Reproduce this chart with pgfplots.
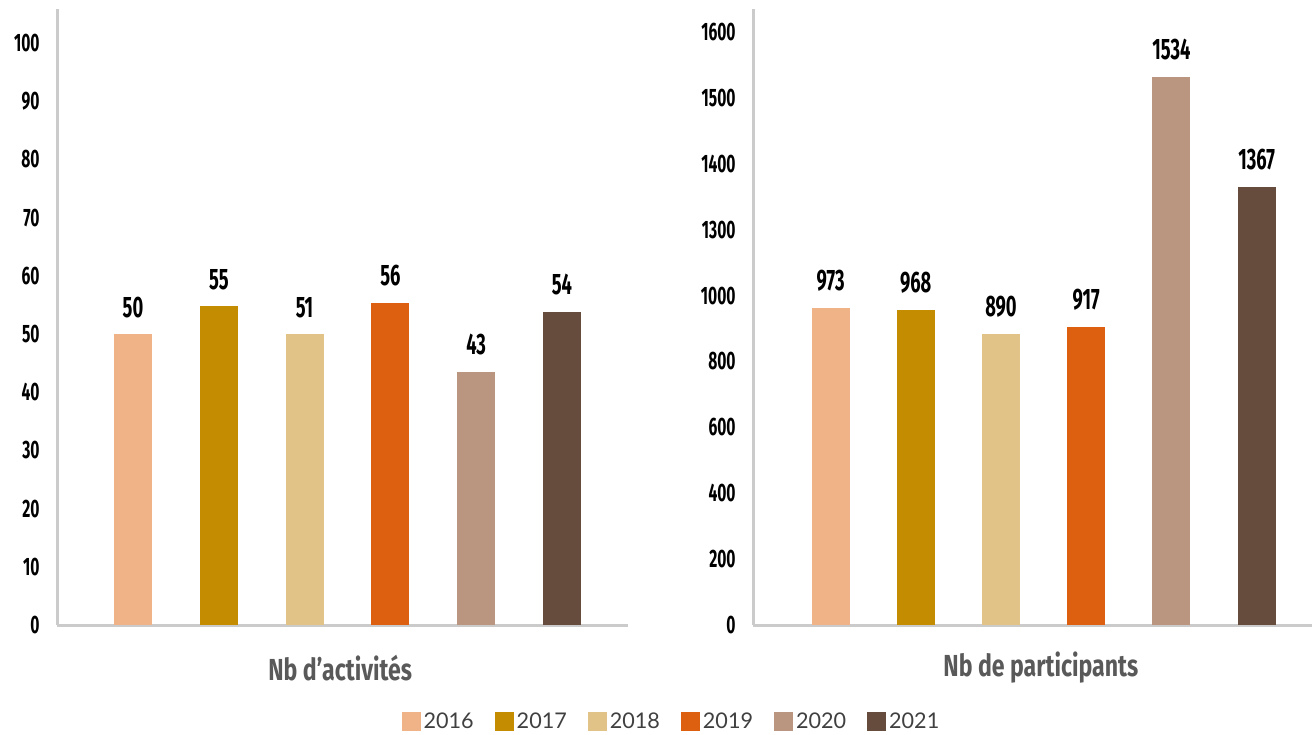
\documentclass[border=0pt]{standalone}
\usepackage{pgfplots}
\pgfplotsset{compat=1.18}
\usepackage{fontspec}
\setmainfont{Lato}
\newfontfamily\condfont[FakeStretch=0.62]{Fira Sans}
\newfontfamily\titlefont[FakeStretch=0.76]{Fira Sans}
\newfontfamily\legfont{Lato}
\definecolor{c2016}{HTML}{F0B287}
\definecolor{c2017}{HTML}{C48C00}
\definecolor{c2018}{HTML}{E1C387}
\definecolor{c2019}{HTML}{DD6010}
\definecolor{c2020}{HTML}{BA9580}
\definecolor{c2021}{HTML}{654C3D}
\definecolor{axgray}{HTML}{CBCBCB}
\definecolor{titlegray}{HTML}{595959}
\definecolor{leggray}{HTML}{404040}
\pgfplotsset{
  mybars/.style={
    scale only axis,
    height=308bp,
    ymin=0,
    axis lines*=left,
    axis line style={draw=axgray, line width=1.5bp, -},
    xtick=\empty,
    tick style={draw=none},
    /pgf/number format/assume math mode=true,
    yticklabel style={font=\condfont\bfseries\fontsize{12.6bp}{14bp}\selectfont, inner sep=0pt, xshift=-8.5bp, text=black},
    xlabel style={font=\titlefont\bfseries\fontsize{15.2bp}{18bp}\selectfont, text=titlegray, anchor=center, inner sep=0pt},
    point meta=explicit symbolic,
    nodes near coords,
    every node near coord/.append style={font=\condfont\bfseries\fontsize{14.8bp}{17bp}\selectfont, text=black, anchor=south, inner sep=0pt, yshift=8bp},
    every axis plot/.append style={ybar, bar width=19bp, bar shift=0pt, draw=none},
    clip=false,
  }
}
\begin{document}
\begin{tikzpicture}
\path[use as bounding box] (0,0) rectangle (656bp,-367.5bp);
\begin{axis}[mybars,
  at={(28.5bp,-312.5bp)}, anchor=south west,
  width=285.5bp,
  xmin=-0.886, xmax=5.77,
  ymax=105.84,
  ytick={0,10,20,30,40,50,60,70,80,90,100},
  yticklabels={0,10,20,30,40,50,60,70,80,90,100},
  xlabel={Nb d’activités},
  xlabel style={at={(axis description cs:0.496,0)}, yshift=-21.5bp},
  legend columns=6,
  legend style={at={(axis description cs:1.077,-0.157)}, anchor=center, draw=none, fill=none,
    font=\legfont\fontsize{10.8bp}{12bp}\selectfont, text=leggray,
    /tikz/every even column/.append style={column sep=9bp},
    nodes={inner sep=1.5bp}},
  legend image code/.code={\fill[#1] (0bp,-4.75bp) rectangle (9.5bp,4.75bp);},
]
\addplot[fill=c2016] coordinates {(0,50.0) [50]};
\addplot[fill=c2017] coordinates {(1,54.8) [55]};
\addplot[fill=c2018] coordinates {(2,50.0) [51]};
\addplot[fill=c2019] coordinates {(3,55.4) [56]};
\addplot[fill=c2020] coordinates {(4,43.5) [43]};
\addplot[fill=c2021] coordinates {(5,53.8) [54]};
\legend{2016,2017,2018,2019,2020,2021}
\end{axis}
\begin{axis}[mybars,
  at={(376.5bp,-312.5bp)}, anchor=south west,
  width=279.5bp,
  xmin=-0.91, xmax=5.65,
  ymax=9.35,
  ytick={0,1,2,3,4,5,6,7,8,9},
  yticklabels={0,200,400,600,800,1000,1300,1400,1500,1600},
  xlabel={Nb de participants},
  xlabel style={at={(axis description cs:0.515,0)}, yshift=-21.5bp},
]
\addplot[fill=c2016] coordinates {(0,4.81) [973]};
\addplot[fill=c2017] coordinates {(1,4.78) [968]};
\addplot[fill=c2018] coordinates {(2,4.42) [890]};
\addplot[fill=c2019] coordinates {(3,4.52) [917]};
\addplot[fill=c2020] coordinates {(4,8.32) [1534]};
\addplot[fill=c2021] coordinates {(5,6.65) [1367]};
\end{axis}
\end{tikzpicture}
\end{document}
